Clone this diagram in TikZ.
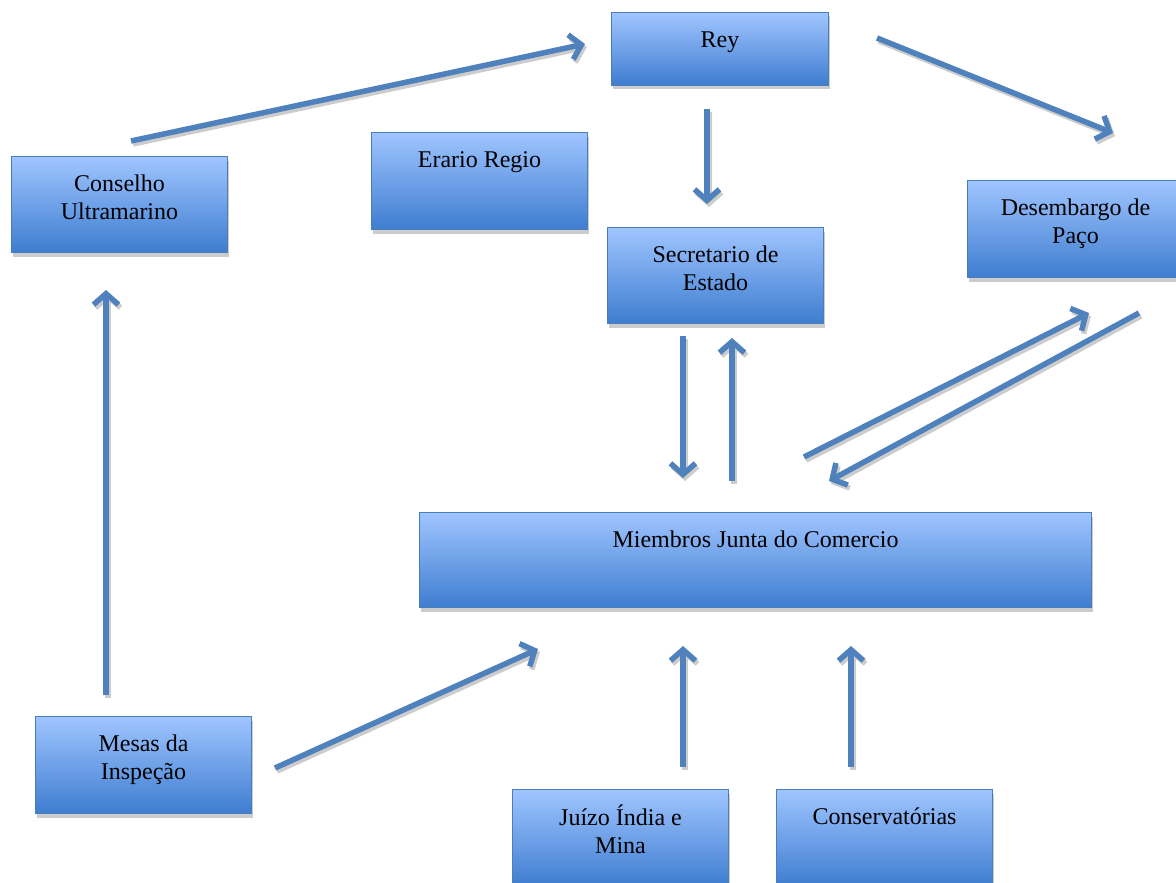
\documentclass[tikz,border=0pt]{standalone}
\usepackage{fontspec}
\setmainfont{Liberation Serif}
\usetikzlibrary{arrows.meta,shadows}
\definecolor{boxtop}{RGB}{160,197,255}
\definecolor{boxbot}{RGB}{62,125,208}
\definecolor{boxline}{RGB}{74,126,187}
\definecolor{arrc}{RGB}{79,129,189}
\definecolor{shad}{RGB}{204,204,204}
\newcommand\boxtext[3]{\parbox[c][#1][t]{#2}{\centering\vspace*{15.5pt}\strut #3\par}}
\newcommand\sarrow[2]{%
  \draw[arrshadow] ([shift={(2,3)}]#1) -- ([shift={(2,3)}]#2);
  \draw[arr] (#1) -- (#2);}
\begin{document}
\begin{tikzpicture}[x=1pt,y=-1pt,
  orgbox/.style={draw=boxline, line width=1pt, top color=boxtop, bottom color=boxbot,
    inner sep=0pt, anchor=north west, font=\fontsize{24}{28}\selectfont,
    drop shadow={shadow xshift=1.5pt, shadow yshift=-4pt, fill=shad, opacity=1}},
  arr/.style={draw=arrc, line width=5.5pt, -{Straight Barb[length=11pt,width=25pt]}},
  arrshadow/.style={draw=shad, line width=5.5pt, -{Straight Barb[length=11pt,width=25pt]}}]
\useasboundingbox (0,0) rectangle (1176,883);
\fill[white] (0,0) rectangle (1176,883);
% boxes
\node[orgbox] (rey) at (611,12) {\boxtext{73pt}{217pt}{Rey}};
\node[orgbox] (cons) at (11,156) {\boxtext{96pt}{216pt}{Conselho\\Ultramarino}};
\node[orgbox] (erar) at (371,132) {\boxtext{97pt}{216pt}{Erario Regio}};
\node[orgbox] (secr) at (607,227) {\boxtext{96pt}{216pt}{Secretario de\\Estado}};
\node[orgbox] (dese) at (967,180) {\boxtext{97pt}{216pt}{Desembargo de\\Paço}};
\node[orgbox] (miem) at (419,512) {\boxtext{95pt}{672pt}{Miembros Junta do Comercio}};
\node[orgbox] (mesa) at (35,716) {\boxtext{97pt}{216pt}{Mesas da\\Inspeção}};
\node[orgbox] (juiz) at (512,789) {\boxtext{97pt}{216pt}{Juízo Índia e\\Mina}};
\node[orgbox] (conv) at (776,789) {\boxtext{97pt}{216pt}{Conservatórias}};
% connector end points
\coordinate (consR) at (131,141); \coordinate (reyL) at (585,44);
\coordinate (reyR) at (877,38); \coordinate (deseT) at (1113,133);
\coordinate (reyB) at (707,109); \coordinate (secrT) at (707,204);
\coordinate (secrBa) at (683,336); \coordinate (miemTa) at (683,478);
\coordinate (miemTb) at (732,481); \coordinate (secrBb) at (732,338);
\coordinate (miemTc) at (804,457); \coordinate (deseBa) at (1089,313);
\coordinate (deseBb) at (1139,313); \coordinate (miemTd) at (829,481);
\coordinate (mesaT) at (106,695); \coordinate (consB) at (106,290);
\coordinate (mesaR) at (275,768); \coordinate (miemBa) at (538,649);
\coordinate (juizT) at (683,767); \coordinate (miemBb) at (683,646);
\coordinate (convT) at (851,767); \coordinate (miemBc) at (851,646);
% arrows
\sarrow{consR}{reyL}
\sarrow{reyR}{deseT}
\sarrow{reyB}{secrT}
\sarrow{secrBa}{miemTa}
\sarrow{miemTb}{secrBb}
\sarrow{miemTc}{deseBa}
\sarrow{deseBb}{miemTd}
\sarrow{mesaT}{consB}
\sarrow{mesaR}{miemBa}
\sarrow{juizT}{miemBb}
\sarrow{convT}{miemBc}
\end{tikzpicture}
\end{document}
